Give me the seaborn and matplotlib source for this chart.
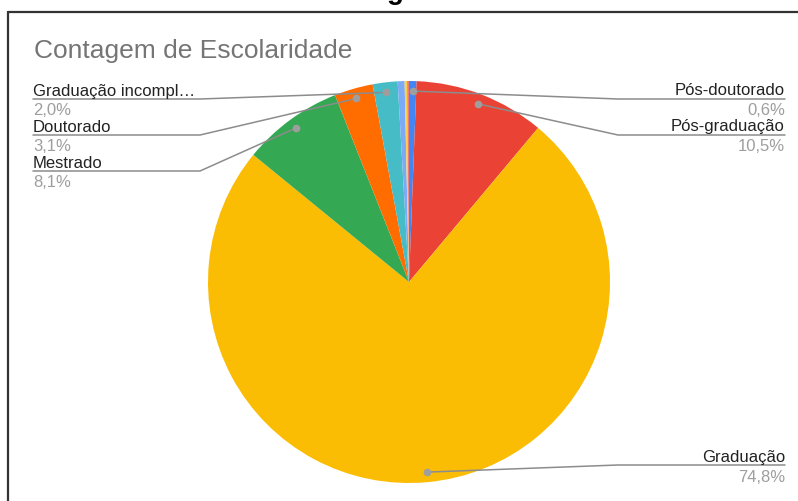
import matplotlib
matplotlib.use("Agg")
import numpy as np
import matplotlib.pyplot as plt
import seaborn as sns
from matplotlib.lines import Line2D

# dados (percentuais)
categorias = ["Pós-doutorado", "Pós-graduação", "Graduação", "Mestrado", "Doutorado",
              "Graduação incompleta", "Ensino médio", "Técnico", "Outro"]
percentuais = [0.6, 10.5, 74.8, 8.1, 3.1, 2.0, 0.55, 0.2, 0.15]
rotulos = ["Pós-doutorado", "Pós-graduação", "Graduação", "Mestrado", "Doutorado",
           "Graduação incompl…", None, None, None]
cores = ["#4285F4", "#EA4335", "#FBBC04", "#34A853", "#FF6D01",
         "#46BDC6", "#7BAAF7", "#FCD04F", "#F07B72"]

sns.set_theme(style="white")
plt.rcParams['font.family'] = ['Liberation Sans', 'DejaVu Sans']

W, H = 798, 502
fig = plt.figure(figsize=(W / 100, H / 100), dpi=100)

# centro e raio da pizza em pixels
cx, cy, r = 409, 283, 201
ax = fig.add_axes([(cx - r) / W, (H - cy - r) / H, 2 * r / W, 2 * r / H])
wedges, _ = ax.pie(percentuais, colors=sns.color_palette(cores), startangle=90,
                   counterclock=False, radius=1, wedgeprops=dict(linewidth=0))
ax.set_xlim(-1, 1)
ax.set_ylim(-1, 1)
ax.axis('off')

def fx(x):
    return x / W

def fy(y):
    return 1 - y / H

def px2data(x, y):
    return (x - cx) / r, (cy - y) / r

# posicoes dos rotulos: lado, baseline texto, linha, baseline percentual
layout = {
    0: ("r", 95, 100, 115),
    1: ("r", 131, 136, 151),
    2: ("r", 462, 466, 482),
    3: ("l", 168, 172, 187),
    4: ("l", 132, 136, 151),
    5: ("l", 96, 100, 115),
}

linha_cor = "#8c8c8c"
for i, (lado, yt, yl, yp) in layout.items():
    w = wedges[i]
    ang = np.deg2rad((w.theta1 + w.theta2) / 2)
    dx, dy = 0.95 * np.cos(ang), 0.95 * np.sin(ang)
    if lado == "r":
        xb, xe, xt, ha = 618, 785, 785, "right"
    else:
        xb, xe, xt, ha = 200, 33, 33, "left"
    bx, by = px2data(xb, yl)
    ex, ey = px2data(xe, yl)
    ax.add_line(Line2D([dx, bx, ex], [dy, by, ey], color=linha_cor, lw=1.1,
                       clip_on=False, zorder=5))
    ax.plot([dx], [dy], "o", ms=4.5, color="#9e9e9e", clip_on=False, zorder=6)
    txt = rotulos[i]
    pct = f"{percentuais[i]:.1f}".replace(".", ",") + "%"
    fig.text(fx(xt), fy(yt), txt, ha=ha, va="baseline", fontsize=12, color="#222222")
    fig.text(fx(xt), fy(yp), pct, ha=ha, va="baseline", fontsize=12, color="#9e9e9e")

# titulo
fig.text(fx(34), fy(58), "Contagem de Escolaridade", ha="left", va="baseline",
         fontsize=19, color="#757575")

# borda do quadro
fig.add_artist(Line2D([fx(8), fx(W + 5)], [fy(13), fy(13)], transform=fig.transFigure,
                      color="#333333", lw=1.6))
fig.add_artist(Line2D([fx(8), fx(8)], [fy(13), fy(H + 5)], transform=fig.transFigure,
                      color="#333333", lw=1.6))

# resto de um titulo cortado no topo
fig.text(fx(395), fy(-1), "g", ha="center", va="baseline", fontsize=20,
         fontweight="bold", color="black")

fig.savefig("out.png", dpi=100)
